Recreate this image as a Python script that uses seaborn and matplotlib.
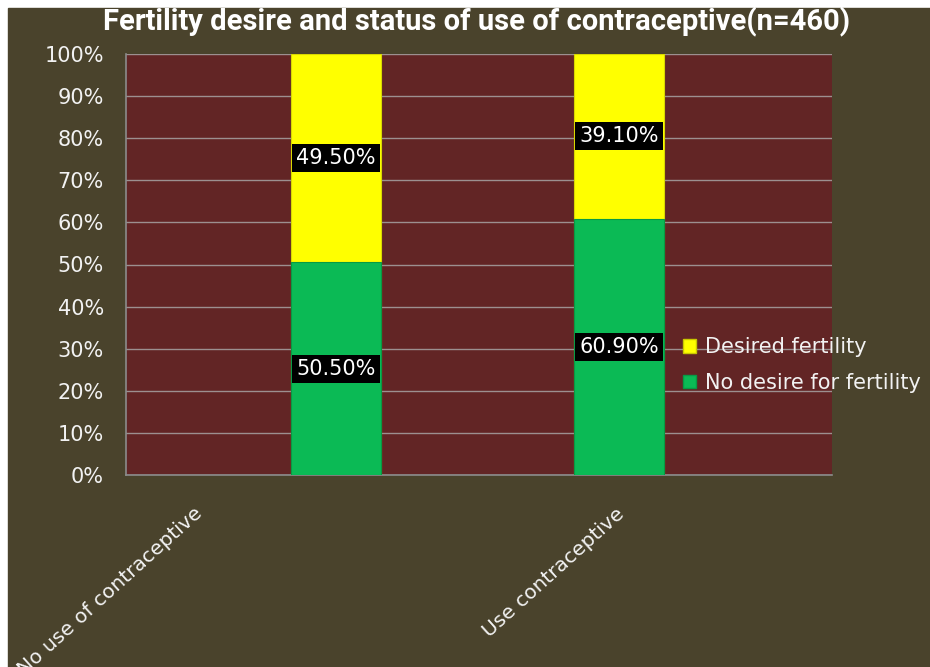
"""Stacked bars: fertility desire by contraceptive use (n=460)."""
import matplotlib
matplotlib.use("Agg")
import matplotlib.pyplot as plt
from matplotlib.patches import Rectangle, Patch
from matplotlib.ticker import PercentFormatter
import pandas as pd
import seaborn as sns

# data
groups = ["No use of contraceptive", "Use contraceptive"]
no_desire = [50.5, 60.9]
desired = [49.5, 39.1]
series_names = ["Desired fertility", "No desire for fertility"]

olive = "#4a432c"
maroon = "#622525"
yellow = "#ffff00"
green = "#0bba55"

sns.set_theme(style="white")
plt.rcParams["font.family"] = ["DejaVu Sans"]

df = pd.DataFrame({"group": groups, "no_desire": no_desire, "desired": desired})
df["total"] = df["no_desire"] + df["desired"]

fig = plt.figure(figsize=(9.3, 6.67), dpi=100, facecolor="white")
# olive chart area with a thin white border top/left
fig.patches.append(Rectangle((8 / 930, 0), 1, 1 - 8 / 667, transform=fig.transFigure,
                             color=olive, zorder=-1))
ax = fig.add_axes([126 / 930, 1 - 475 / 667, 706 / 930, 421 / 667])
ax.set_facecolor(maroon)

# stacked bars: full height in yellow, green drawn over it
sns.barplot(data=df, x="group", y="total", color=yellow, width=0.318,
            saturation=1, edgecolor="#d8d800", linewidth=0.8, ax=ax, zorder=3)
sns.barplot(data=df, x="group", y="no_desire", color=green, width=0.318,
            saturation=1, edgecolor="#079a45", linewidth=0.8, ax=ax, zorder=3)

# value labels in black boxes
for i, row in df.iterrows():
    for val, mid in [(row["no_desire"], row["no_desire"] / 2),
                     (row["desired"], row["no_desire"] + row["desired"] / 2)]:
        ax.text(i, mid, f"{val:.2f}%", ha="center", va="center", color="white",
                fontsize=15, zorder=5,
                bbox=dict(boxstyle="square,pad=0.2", facecolor="black", edgecolor="none"))

ax.set_ylim(0, 100)
ax.set_xlim(-0.742, 1.753)
ax.set_yticks(range(0, 101, 10))
ax.yaxis.set_major_formatter(PercentFormatter(decimals=0))
ax.grid(axis="y", color="#9c9090", linewidth=1, zorder=0)
ax.set_axisbelow(True)

# category labels sit off to the left of the bars, as in the original
ax.set_xticks([-0.48, 1.01])
ax.set_xticklabels(groups, rotation=42, ha="right", va="center",
                   rotation_mode="anchor")
ax.tick_params(axis="x", length=0, pad=26, labelsize=14.5, labelcolor="#f2f2f2")
ax.tick_params(axis="y", length=0, pad=16, labelsize=15, labelcolor="#f2f2f2")
ax.set_xlabel("")
ax.set_ylabel("")

for side in ["top", "right"]:
    ax.spines[side].set_visible(False)
for side in ["left", "bottom"]:
    ax.spines[side].set_color("#8c8c8c")
    ax.spines[side].set_linewidth(1.2)

handles = [Patch(facecolor=yellow, edgecolor="#c8c800"),
           Patch(facecolor=green, edgecolor="#079a45")]
leg = fig.legend(handles, series_names, loc="center left",
                 bbox_to_anchor=(664 / 930, 1 - 365 / 667), frameon=False,
                 fontsize=15, handlelength=0.65, handleheight=0.65,
                 handletextpad=0.4, labelspacing=0.75)
for t in leg.get_texts():
    t.set_color("#f2f2f2")

fig.text(477 / 930, 1 - 22 / 667,
         "Fertility desire and status of use of contraceptive(n=460)",
         ha="center", va="center", color="white", fontsize=21, fontweight="bold",
         family=["Roboto", "DejaVu Sans"])

fig.savefig("out.png", dpi=100, facecolor=fig.get_facecolor())
